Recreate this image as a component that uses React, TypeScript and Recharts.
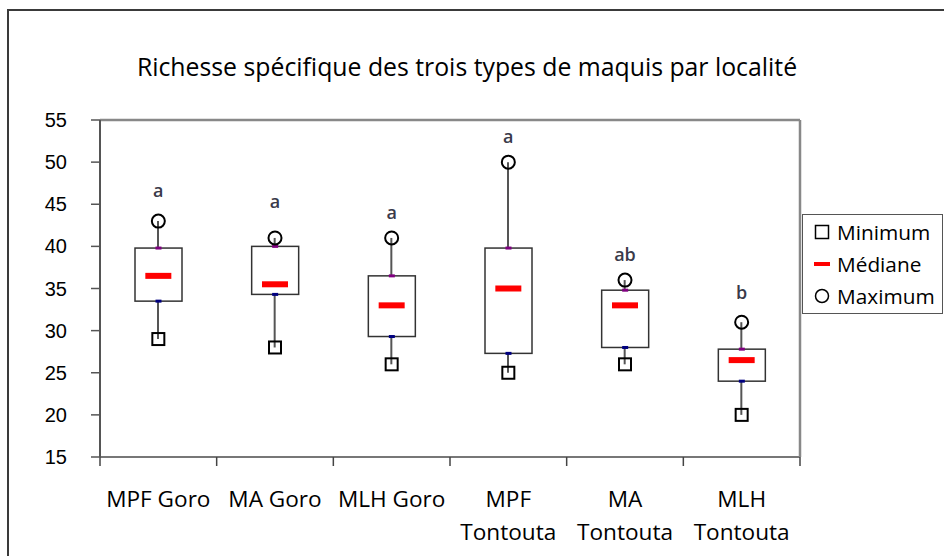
import React from 'react';
import { ComposedChart, Bar, Scatter, XAxis, YAxis, Legend } from 'recharts';

const title = 'Richesse spécifique des trois types de maquis par localité';
const categories = ['MPF Goro', 'MA Goro', 'MLH Goro', 'MPF Tontouta', 'MA Tontouta', 'MLH Tontouta'];
const tickLabels = [['MPF Goro'], ['MA Goro'], ['MLH Goro'], ['MPF', 'Tontouta'], ['MA', 'Tontouta'], ['MLH', 'Tontouta']];
const minimum = [29, 28, 26, 25, 26, 20];
const quartile1 = [33.5, 34.3, 29.3, 27.3, 28, 24];
const mediane = [36.5, 35.5, 33, 35, 33, 26.5];
const quartile3 = [39.8, 40, 36.5, 39.8, 34.8, 27.8];
const maximum = [43, 41, 41, 50, 36, 31];
const letters = ['a', 'a', 'a', 'a', 'ab', 'b'];
const letterPos = [46.5, 45.1, 43.9, 52.9, 38.9, 34.3];
const yTicks = [15, 20, 25, 30, 35, 40, 45, 50, 55];
const legendItems = [
  { name: 'Minimum', kind: 'square' },
  { name: 'Médiane', kind: 'dash' },
  { name: 'Maximum', kind: 'circle' },
];

// category boundaries (in category-index units) for the x-axis tick marks
const boundaryTicks = categories.map((_, i) => i).concat(categories.length);

const data = categories.map((name, i) => ({
  name,
  slot: i + 0.5,
  min: minimum[i],
  q1: quartile1[i],
  median: mediane[i],
  q3: quartile3[i],
  max: maximum[i],
  letter: letters[i],
  letterY: letterPos[i],
}));

const FONT = '"Open Sans", sans-serif';

const WhiskerShape = (props: any) => {
  const { x, y, width, height } = props;
  const cx = x + width / 2;
  return <line x1={cx} x2={cx} y1={y} y2={y + height} stroke="#555" strokeWidth={2} />;
};

const BoxShape = (props: any) => {
  const { x, y, width, height } = props;
  const cx = x + width / 2;
  return (
    <g>
      <rect x={x} y={y} width={width} height={height} fill="#fff" stroke="#333" strokeWidth={1.5} />
      <rect x={cx - 3} y={y - 1.5} width={6} height={3} fill="#800080" />
      <rect x={cx - 3} y={y + height - 1.5} width={6} height={3} fill="#000080" />
    </g>
  );
};

const MinShape = (props: any) => {
  const { cx, cy } = props;
  return <rect x={cx - 6} y={cy - 6} width={12} height={12} fill="none" stroke="#000" strokeWidth={2} />;
};
const MaxShape = (props: any) => {
  const { cx, cy } = props;
  return <circle cx={cx} cy={cy} r={6.5} fill="none" stroke="#000" strokeWidth={2} />;
};
const MedianShape = (props: any) => {
  const { cx, cy } = props;
  return <rect x={cx - 13} y={cy - 3} width={26} height={6} fill="#ff0000" />;
};
const LetterShape = (props: any) => {
  const { cx, cy, payload } = props;
  return (
    <text x={cx} y={cy + 5} textAnchor="middle" fontFamily={FONT} fontSize={18} fontWeight={600} fill="#3a3a4a">
      {payload.letter}
    </text>
  );
};

const EmptyTick = () => <g />;

const CatTick = (props: any) => {
  const { x, y, index } = props;
  const lines = tickLabels[index] || [];
  return (
    <text x={x} y={y} textAnchor="middle" fontFamily={FONT} fontSize={22.6} fill="#000">
      {lines.map((l, i) => (
        <tspan key={i} x={x} dy={i === 0 ? 49 : 33}>
          {l}
        </tspan>
      ))}
    </text>
  );
};

const LegendContent = () => (
  <div
    style={{
      boxSizing: 'border-box',
      width: 141,
      height: 100,
      border: '1.5px solid #555',
      paddingTop: 1,
      paddingLeft: 11,
      fontFamily: FONT,
      fontSize: 20.8,
      color: '#000',
      background: '#fff',
    }}
  >
    {legendItems.map((it) => (
      <div key={it.name} style={{ height: 32, lineHeight: '32px', display: 'flex', alignItems: 'center' }}>
        <svg width={16} height={16} style={{ marginRight: 7, flex: 'none' }}>
          {it.kind === 'square' && <rect x={1.5} y={1.5} width={13} height={13} fill="none" stroke="#000" strokeWidth={1.5} />}
          {it.kind === 'dash' && <rect x={0} y={6} width={16} height={4} fill="#ff0000" />}
          {it.kind === 'circle' && <circle cx={8} cy={8} r={6.5} fill="none" stroke="#000" strokeWidth={1.5} />}
        </svg>
        <span>{it.name}</span>
      </div>
    ))}
  </div>
);

export default function App() {
  return (
    <div style={{ position: 'absolute', left: 0, top: 0, width: 944, height: 556, background: '#fff', overflow: 'hidden' }}>
      <div
        style={{
          position: 'absolute',
          left: 7,
          top: 9,
          width: 1000,
          height: 1000,
          borderLeft: '2px solid #3a3a3a',
          borderTop: '2px solid #3a3a3a',
        }}
      />
      <svg width={944} height={100} style={{ position: 'absolute', left: 0, top: 0 }}>
        <text x={467} y={76} textAnchor="middle" fontFamily={FONT} fontSize={24.8} fill="#000">
          {title}
        </text>
      </svg>
      <div style={{ position: 'absolute', left: 0, top: 0 }}>
        <ComposedChart width={944} height={556} data={data} margin={{ top: 119, right: 143, bottom: 0, left: 0 }}>
          <XAxis
            xAxisId="bnd"
            dataKey="slot"
            type="number"
            domain={[0, categories.length]}
            ticks={boundaryTicks}
            interval={0}
            tick={<EmptyTick />}
            tickSize={9}
            height={1}
            allowDataOverflow
            axisLine={{ stroke: '#777', strokeWidth: 2 }}
            tickLine={{ stroke: '#444', strokeWidth: 1.5 }}
          />
          <XAxis
            xAxisId="cat"
            dataKey="name"
            type="category"
            interval={0}
            height={98}
            axisLine={false}
            tickLine={false}
            tickSize={0}
            tickMargin={0}
            tick={<CatTick />}
          />
          <XAxis
            xAxisId="top"
            dataKey="name"
            type="category"
            orientation="top"
            height={1}
            tick={false}
            tickLine={false}
            axisLine={{ stroke: '#888', strokeWidth: 2.5 }}
          />
          <YAxis
            yAxisId="left"
            domain={[15, 55]}
            ticks={yTicks}
            interval={0}
            width={100}
            tickSize={9}
            tickMargin={24}
            allowDataOverflow
            axisLine={{ stroke: '#555', strokeWidth: 2 }}
            tickLine={{ stroke: '#555', strokeWidth: 1.5 }}
            tick={{ fontFamily: '"Liberation Sans", Arial, sans-serif', fontSize: 20, fill: '#000' }}
          />
          <YAxis
            yAxisId="right"
            orientation="right"
            domain={[15, 55]}
            width={1}
            tick={false}
            tickLine={false}
            axisLine={{ stroke: '#888', strokeWidth: 2.5 }}
          />
          <Bar
            xAxisId="top"
            yAxisId="left"
            dataKey={(d: any) => [d.min, d.max]}
            barSize={10}
            shape={<WhiskerShape />}
            isAnimationActive={false}
            legendType="none"
          />
          <Bar
            xAxisId="cat"
            yAxisId="left"
            dataKey={(d: any) => [d.q1, d.q3]}
            barSize={47}
            shape={<BoxShape />}
            isAnimationActive={false}
            legendType="none"
          />
          <Scatter xAxisId="cat" yAxisId="left" dataKey="min" name="Minimum" shape={<MinShape />} isAnimationActive={false} />
          <Scatter xAxisId="cat" yAxisId="left" dataKey="median" name="Médiane" shape={<MedianShape />} isAnimationActive={false} />
          <Scatter xAxisId="cat" yAxisId="left" dataKey="max" name="Maximum" shape={<MaxShape />} isAnimationActive={false} />
          <Scatter xAxisId="cat" yAxisId="left" dataKey="letterY" shape={<LetterShape />} isAnimationActive={false} legendType="none" />
          <Legend
            layout="vertical"
            align="center"
            verticalAlign="middle"
            content={<LegendContent />}
            wrapperStyle={{ left: 802, top: 214, width: 141, height: 100 }}
          />
        </ComposedChart>
      </div>
    </div>
  );
}
